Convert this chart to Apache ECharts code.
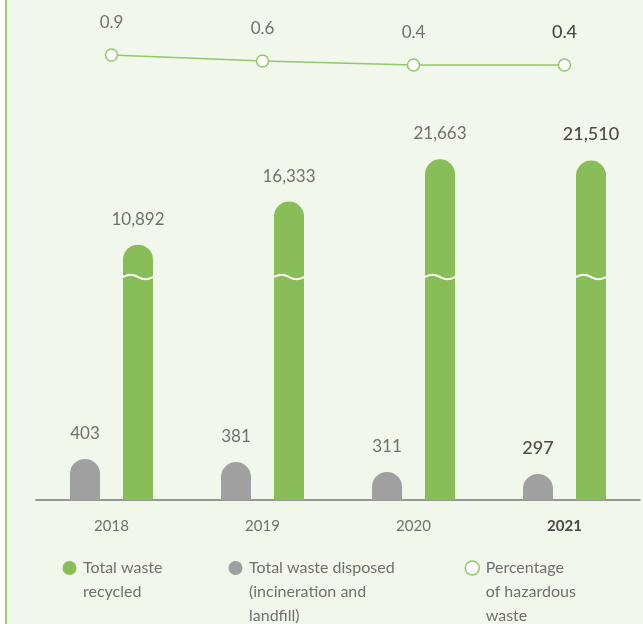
<!DOCTYPE html>
<html>
<head>
<meta charset="utf-8">
<script src="https://cdn.jsdelivr.net/npm/echarts@6/dist/echarts.min.js"></script>
<style>
html,body{margin:0;padding:0;background:#ffffff;}
#wrap{position:absolute;left:5px;top:0;width:636px;height:624px;border-left:2px solid #98d070;background:#f2f7ec;}
#chart{width:636px;height:624px;}
</style>
</head>
<body>
<div id="wrap"><div id="chart"></div></div>
<script>
const years = ['2018', '2019', '2020', '2021'];
const recycled = [10892, 16333, 21663, 21510];
const disposed = [403, 381, 311, 297];
const hazardousPct = [0.9, 0.6, 0.4, 0.4];
const legendNames = ['Total waste\nrecycled', 'Total waste disposed\n(incineration and\nlandfill)', 'Percentage\nof hazardous\nwaste'];

const GREEN = '#88bd57', GRAY = '#a0a0a0', LINE = '#92c76a';
const TXT = '#707070', TXT_DARK = '#4a4a4a';
const FONT = 'Lato';
const lastIdx = years.length - 1;
const GREEN_MIN = -21351;

const chart = echarts.init(document.getElementById('chart'));

function labelData(arr, extra) {
  return arr.map((v, i) => i === lastIdx ? { value: v, label: Object.assign({ color: TXT_DARK, fontWeight: 500 }, extra || {}) } : v);
}

const barW = 30, barGapPx = 23;

function legendCfg(idx, left, top, iconStyle) {
  const n = legendNames[idx].split('\n').length;
  return {
    left: left, top: top, padding: 0, orient: 'horizontal',
    itemWidth: 17, itemHeight: 14, icon: 'circle', selectedMode: false,
    data: [{ name: legendNames[idx], icon: 'circle', itemStyle: iconStyle }],
    formatter: name => '\n'.repeat(n - 1) + name,
    textStyle: { color: TXT, fontSize: 16, lineHeight: 24, fontFamily: FONT }
  };
}

const option = {
  animation: false,
  textStyle: { fontFamily: FONT },
  grid: { left: 29, right: 3, top: 0, bottom: 124 },
  xAxis: {
    type: 'category',
    data: years.map((y, i) => i === lastIdx ? { value: y, textStyle: { color: TXT_DARK, fontWeight: 'bold' } } : y),
    axisLine: { onZero: false, lineStyle: { color: '#7a7a7a', width: 1.5 } },
    axisTick: { show: false },
    axisLabel: { color: TXT, fontSize: 15, margin: 19, fontFamily: FONT }
  },
  yAxis: [
    { type: 'value', show: false, min: 113, max: 3646, startValue: 113, splitLine: { show: false } },
    { type: 'value', show: false, min: GREEN_MIN, max: 41780, startValue: GREEN_MIN, splitLine: { show: false } },
    { type: 'value', show: false, min: -21.35, max: 3.65, splitLine: { show: false } }
  ],
  legend: [
    legendCfg(0, 55.5, 532, { color: GREEN }),
    legendCfg(1, 221.5, 508, { color: GRAY }),
    legendCfg(2, 457.5, 508, { color: '#ffffff', borderColor: LINE, borderWidth: 1.5 })
  ],
  series: [
    {
      name: legendNames[1], type: 'bar', yAxisIndex: 0,
      data: labelData(disposed, { fontSize: 18 }),
      barWidth: barW, barGap: (barGapPx / barW * 100) + '%',
      itemStyle: { color: GRAY, borderRadius: [15, 15, 0, 0] },
      label: { show: true, position: 'top', distance: 17, color: TXT, fontSize: 17, fontFamily: FONT }
    },
    {
      name: legendNames[0], type: 'bar', yAxisIndex: 1,
      data: labelData(recycled, { fontSize: 18 }),
      barWidth: barW,
      itemStyle: { color: GREEN, borderRadius: [15, 15, 0, 0] },
      label: { show: true, position: 'top', distance: 17, color: TXT, fontSize: 17, fontFamily: FONT,
        formatter: p => p.value.toLocaleString('en-US') }
    },
    {
      name: 'wave', type: 'custom', yAxisIndex: 1, z: 5, silent: true,
      data: years.map((y, i) => [i, 0]),
      renderItem: function (params, api) {
        const base = api.coord([api.value(0), GREEN_MIN]);
        const x0 = base[0] + barGapPx / 2;
        const yw = base[1] - 223;
        const pts = [];
        for (let k = 0; k <= 24; k++) {
          const t = k / 24;
          pts.push([x0 + barW * t, yw - 2.2 * Math.sin(2 * Math.PI * t)]);
        }
        return { type: 'polyline', shape: { points: pts }, style: { stroke: '#ffffff', lineWidth: 2, fill: null } };
      }
    },
    {
      name: legendNames[2], type: 'line', yAxisIndex: 2,
      data: labelData(hazardousPct, { fontSize: 18 }),
      symbol: 'circle', symbolSize: 12,
      lineStyle: { color: LINE, width: 1.5 },
      itemStyle: { color: '#ffffff', borderColor: LINE, borderWidth: 1.5 },
      label: { show: true, position: 'top', distance: 17, color: TXT, fontSize: 17, fontFamily: FONT,
        formatter: p => p.value.toFixed(1) }
    }
  ]
};
chart.setOption(option);
</script>
</body>
</html>
